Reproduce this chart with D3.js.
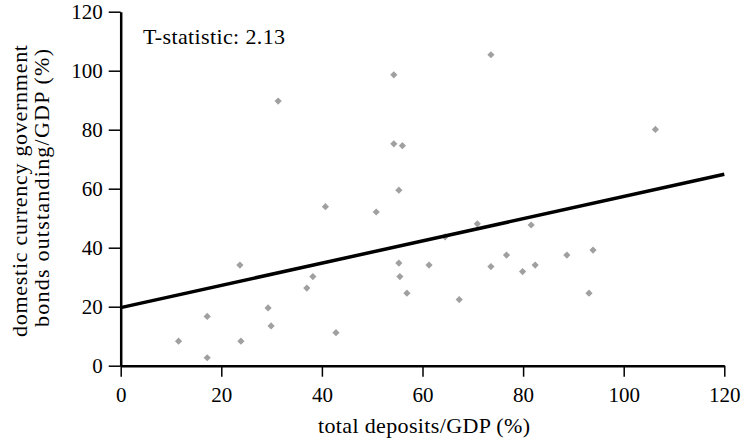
<!DOCTYPE html>
<html><head><meta charset="utf-8">
<script src="https://cdn.jsdelivr.net/npm/d3@7"></script>
</head><body style="margin:0">
<svg id="c" width="744" height="442"></svg>
<script>
const depositsGDP = [31.3,54.3,54.3,56.0,55.3,73.6,106.3,40.7,50.8,23.7,55.3,38.2,55.5,37.0,56.9,29.3,17.2,29.9,42.8,11.5,23.9,17.2,70.9,81.6,64.5,93.9,76.7,88.7,61.3,73.6,82.4,79.9,93.1,67.3];
const bondsGDP    = [89.7,98.6,75.2,74.6,59.5,105.4,80.1,53.9,52.1,34.1,34.8,30.2,30.2,26.3,24.6,19.6,16.7,13.5,11.2,8.3,8.3,2.7,48.1,47.7,43.7,39.2,37.5,37.5,34.1,33.6,34.1,31.9,24.6,22.4];
const fitX = [0,120];
const fitY = [19.7,64.9];
const xTicks = [0,20,40,60,80,100,120];
const yTicks = [0,20,40,60,80,100,120];
const annotation = "T-statistic: 2.13";
const xTitle = "total deposits/GDP (%)";
const yTitle = ["domestic currency government","bonds outstanding/GDP (%)"];

const FONT = "Liberation Serif, Tinos, serif";
const FS = 21;
const svg = d3.select("#c");
const x = d3.scaleLinear().domain([0,120]).range([120.7,724.3]);
const y = d3.scaleLinear().domain([0,120]).range([365.7,11.7]);

const xa = svg.append("g").attr("transform","translate(0,365.7)")
  .call(d3.axisBottom(x).tickValues(xTicks).tickSize(11).tickPadding(4).tickSizeOuter(0));
const ya = svg.append("g").attr("transform","translate(120.7,0)")
  .call(d3.axisLeft(y).tickValues(yTicks).tickSize(12).tickPadding(6).tickSizeOuter(0));
[xa,ya].forEach(g=>{
  g.attr("font-family",FONT).attr("font-size",FS);
  g.select(".domain").attr("stroke","#000").attr("stroke-width",2.5);
  g.selectAll(".tick line").attr("stroke","#000").attr("stroke-width",1.5);
  g.selectAll(".tick text").attr("fill","#000");
});
xa.selectAll(".tick text").attr("dy",null).attr("y",36);
ya.selectAll(".tick text").attr("dy","0.34em");

const pts = depositsGDP.map((d,i)=>[d,bondsGDP[i]]);
const r = 3.6;
svg.append("g").selectAll("path").data(pts).join("path")
  .attr("d",d=>{const cx=x(d[0]),cy=y(d[1]);return `M${cx},${cy-r}L${cx+r},${cy}L${cx},${cy+r}L${cx-r},${cy}Z`;})
  .attr("fill","#a0a0a0");

svg.append("path").datum(fitX.map((d,i)=>[d,fitY[i]]))
  .attr("d",d3.line().x(d=>x(d[0])).y(d=>y(d[1])))
  .attr("stroke","#000").attr("stroke-width",3.5).attr("fill","none");

function txt(sel,len){return sel.attr("font-family",FONT).attr("font-size",22).attr("fill","#000")
  .attr("textLength",len).attr("lengthAdjust","spacing");}
txt(svg.append("text").attr("x",143).attr("y",44),142).text(annotation);
txt(svg.append("text").attr("x",318).attr("y",433),212).text(xTitle);
txt(svg.append("text").attr("transform","translate(27,337) rotate(-90)"),292).text(yTitle[0]);
txt(svg.append("text").attr("transform","translate(48.5,327) rotate(-90)"),278).text(yTitle[1]);
</script></body></html>
